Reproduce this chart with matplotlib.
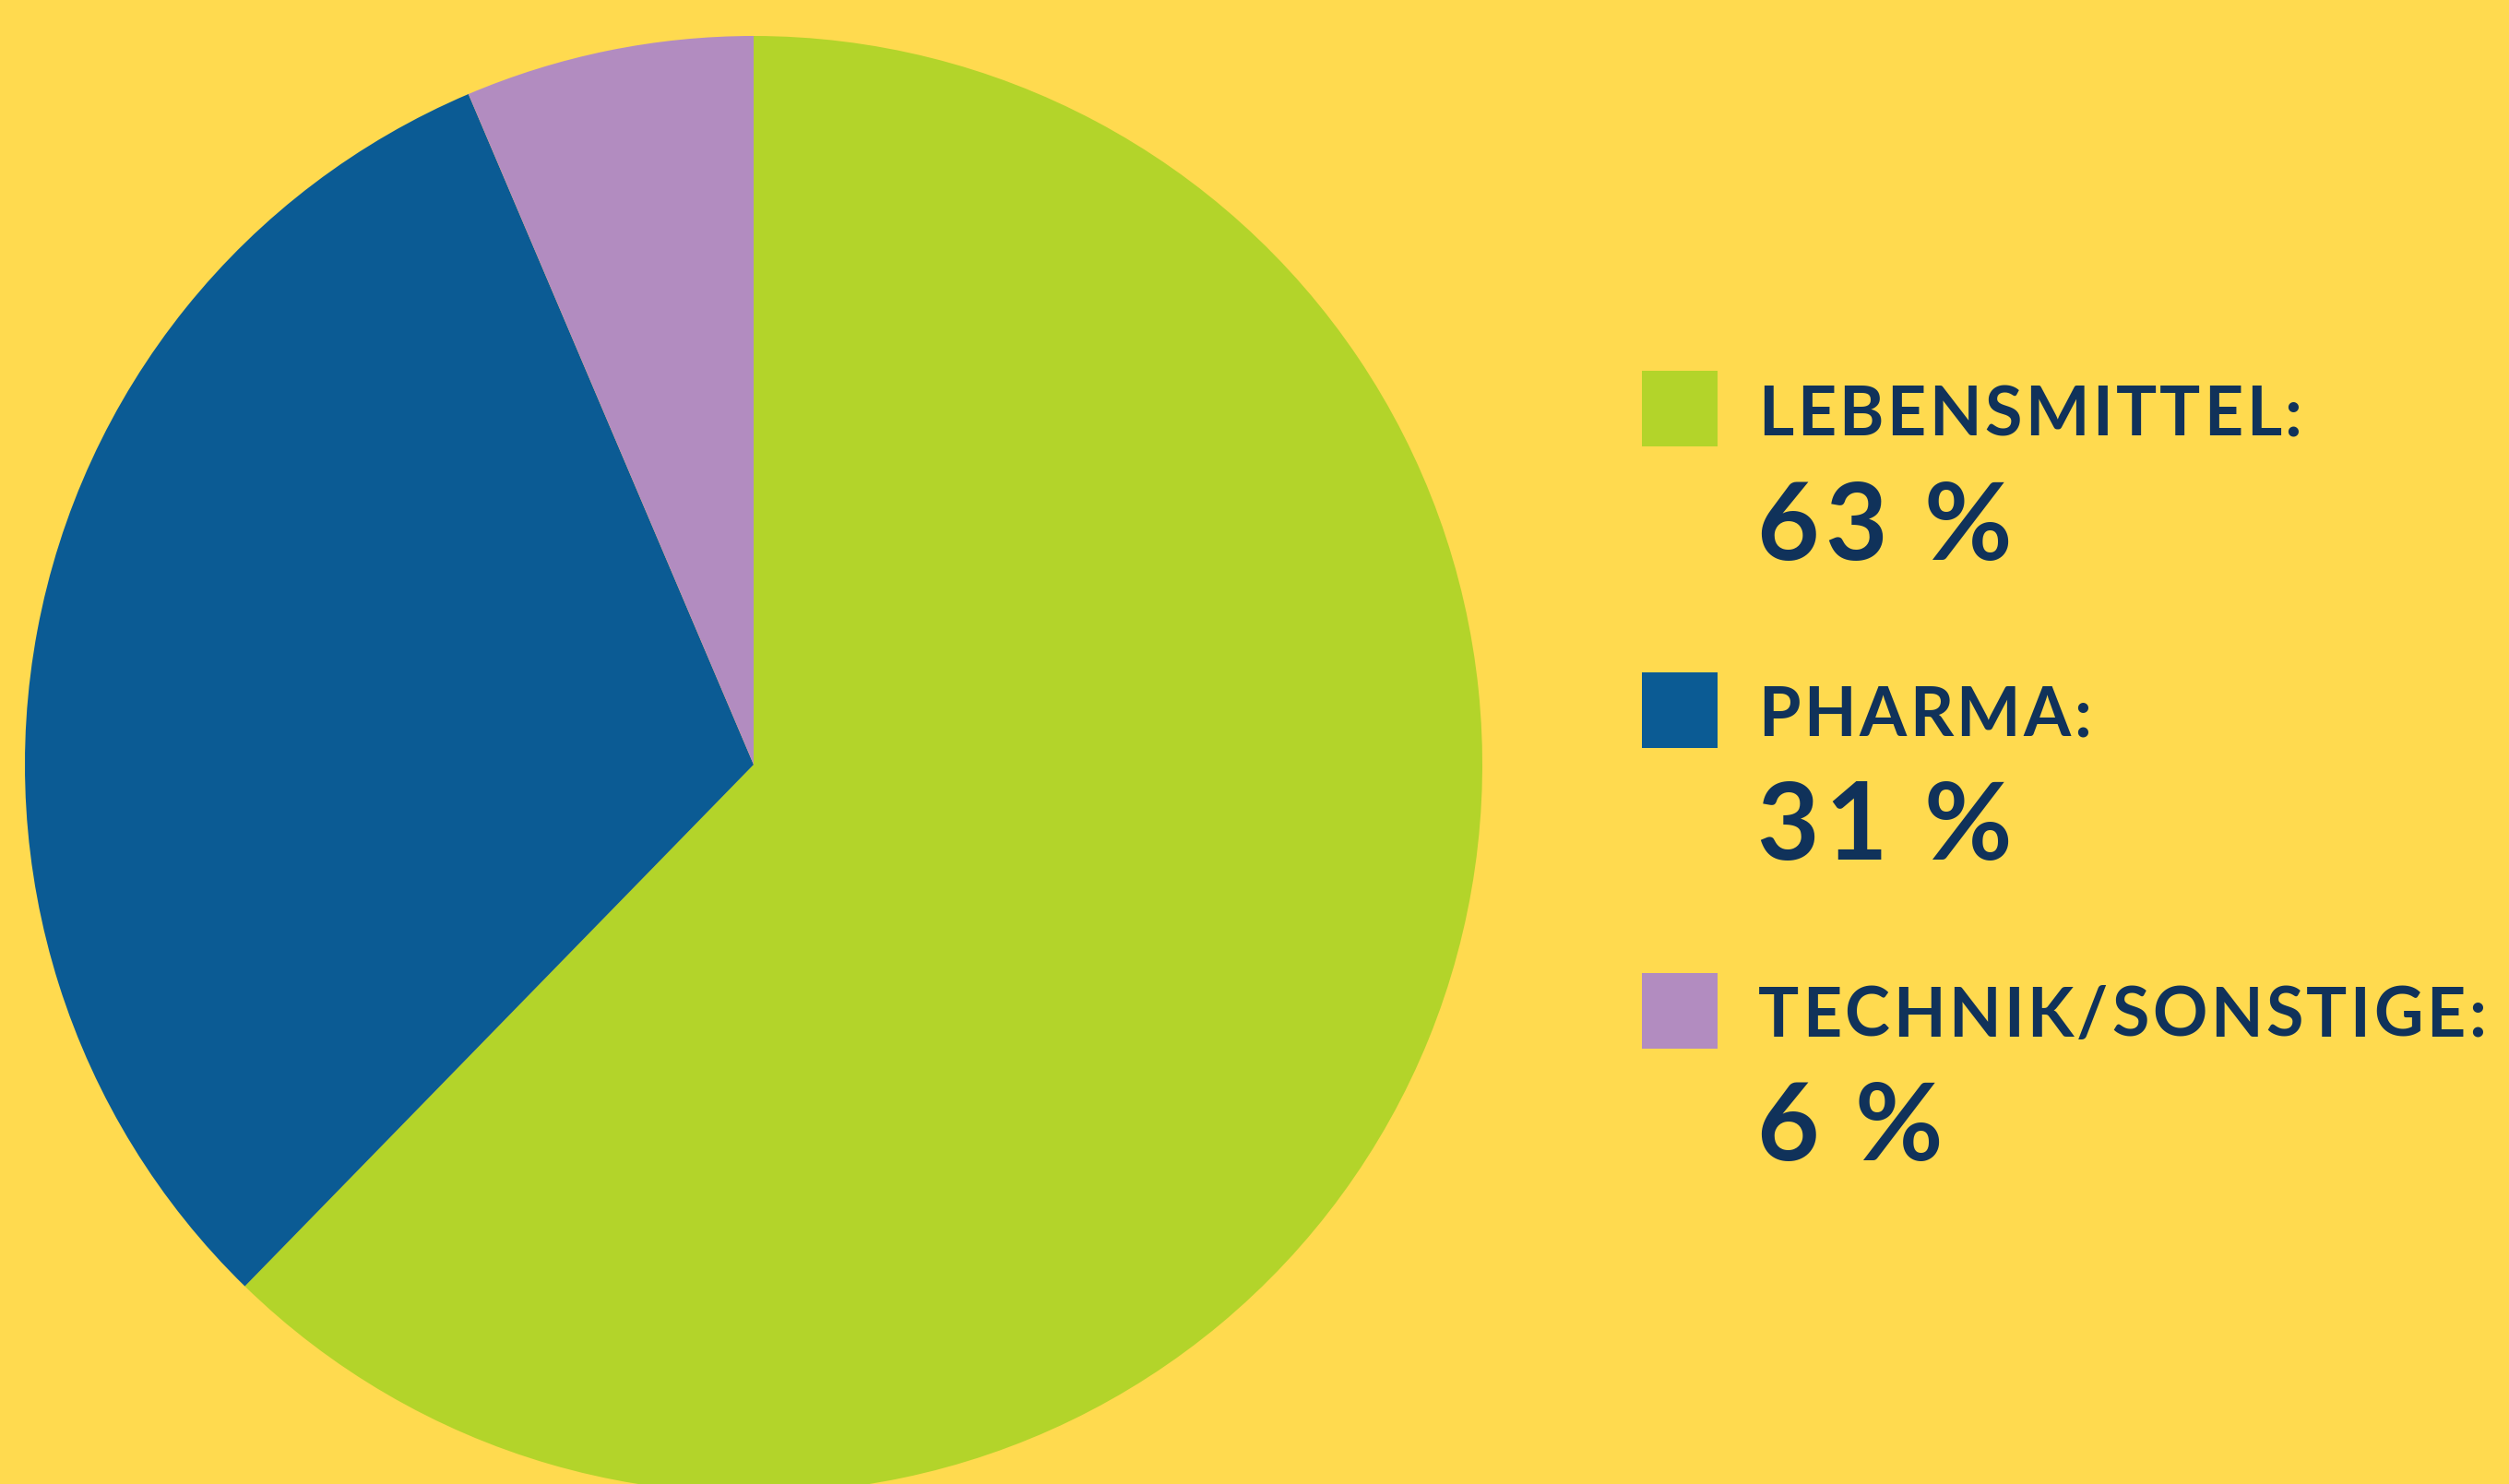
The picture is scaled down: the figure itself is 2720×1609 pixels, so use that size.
import matplotlib.pyplot as plt
from matplotlib.patches import Rectangle

# Data
labels = ["LEBENSMITTEL:", "PHARMA:", "TECHNIK/SONSTIGE:"]
value_labels = ["63 %", "31 %", "6 %"]
# wedge sizes as drawn in the picture
shares = [62.3, 31.3, 6.4]
colors = ["#B3D42A", "#0B5B94", "#B28CC0"]

bg = "#FFDA4F"
text_color = "#10325A"

W, H = 2720, 1609
fig = plt.figure(figsize=(W / 100, H / 100), dpi=100, facecolor=bg)
ax = fig.add_axes([0, 0, 1, 1])
ax.set_facecolor(bg)

# Pie, clockwise from 12 o'clock
ax.pie(shares, colors=colors, startangle=90, counterclock=False,
       center=(817, H - 829), radius=790, frame=True,
       wedgeprops=dict(linewidth=0))
ax.set_xlim(0, W)
ax.set_ylim(0, H)
ax.set_aspect("equal")
ax.axis("off")

renderer = fig.canvas.get_renderer()


def spaced_text(x, y, s, size, tracking):
    # draw char by char to get the letter spacing of the original
    for ch in s:
        t = ax.text(x, y, ch, fontsize=size, fontfamily="Lato", fontweight="bold",
                    color=text_color, va="baseline", ha="left")
        if ch == " ":
            w = size * 0.3
        else:
            w = t.get_window_extent(renderer).width
        x += w + tracking


# Legend: squares + labels + values
sq_tops = [402, 729, 1055]
label_base = [472, 798, 1124]
value_base = [607, 932, 1258]
for lab, val, col, top, lb, vb in zip(labels, value_labels, colors, sq_tops, label_base, value_base):
    ax.add_patch(Rectangle((1780, H - top - 82), 82, 82, color=col, lw=0))
    spaced_text(1906, H - lb, lab, 53, 3.5)
    spaced_text(1904, H - vb, val, 84, 7)

fig.savefig("out.png", dpi=100, facecolor=bg)
